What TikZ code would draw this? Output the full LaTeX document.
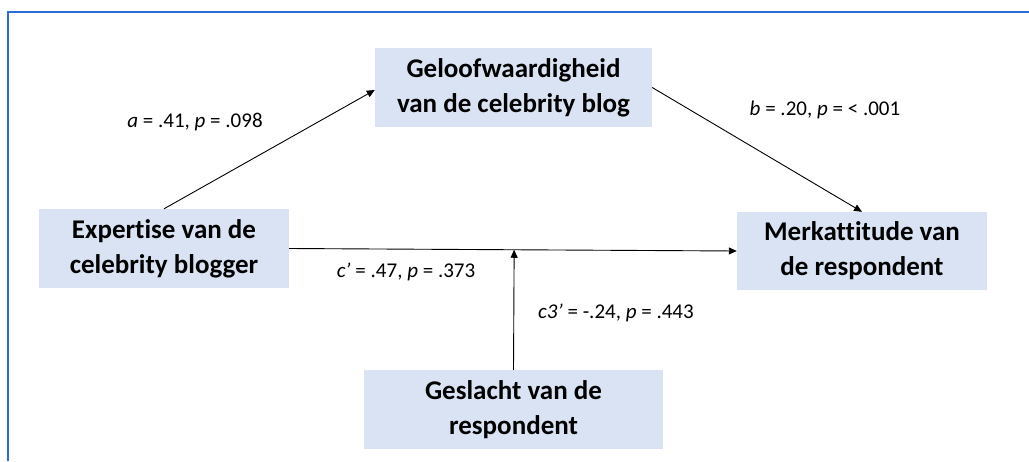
\documentclass[tikz,border=0pt]{standalone}
\usepackage{fontspec}
\setmainfont{Carlito}[Ligatures=NoCommon]
\usetikzlibrary{arrows.meta,calc}
\definecolor{boxfill}{HTML}{DAE3F3}
\definecolor{framecol}{HTML}{2A6BD4}
\begin{document}
\begin{tikzpicture}[x=1pt,y=-1pt,
  varbox/.style={rectangle,fill=boxfill,draw=none,align=center,inner sep=0pt,
    font=\fontsize{27}{35}\selectfont\bfseries},
  path/.style={draw=black,line width=0.9pt,-{Triangle[length=8pt,width=7pt]}},
  coef/.style={font=\fontsize{21}{24}\selectfont,inner sep=0pt}]
\useasboundingbox (0,0) rectangle (1029,461);
% outer frame (top and left edges)
\draw[framecol,line width=2.5pt] (8,461) -- (8,12) -- (1029,12);
% variables
\node[varbox,minimum width=277pt,minimum height=79pt] (geloof) at (513.5,87.5)
  {Geloofwaardigheid\\van de celebrity blog};
\node[varbox,minimum width=250pt,minimum height=79pt] (expert) at (164,248.5)
  {Expertise van de\\celebrity blogger};
\node[varbox,minimum width=250pt,minimum height=78pt] (merk) at (862,251)
  {Merkattitude van\\de respondent};
\node[varbox,minimum width=299pt,minimum height=79pt] (gesl) at (513.5,409.5)
  {Geslacht van de\\respondent};
% paths
\draw[path] (expert.north) -- ($(geloof.west)+(0,2.5)$);
\draw[path] (geloof.east) -- (merk.north);
\draw[path] (expert.east) -- (merk.west);
\coordinate (join) at ($(expert.east)!(gesl.north)!(merk.west)$);
\draw[path] (gesl.north) -- (join);
% coefficients
\node[coef] (la) at (195,122) {\textit{a} = .41, \textit{p} = .098};
\node[coef] (lb) at (825,110) {\textit{b} = .20, \textit{p} = < .001};
\node[coef] (lc) at (406,272) {\textit{c’} = .47, \textit{p} = .373};
\node[coef] (lm) at (616,313) {\textit{c3’} = -.24, \textit{p} = .443};
\end{tikzpicture}
\end{document}
